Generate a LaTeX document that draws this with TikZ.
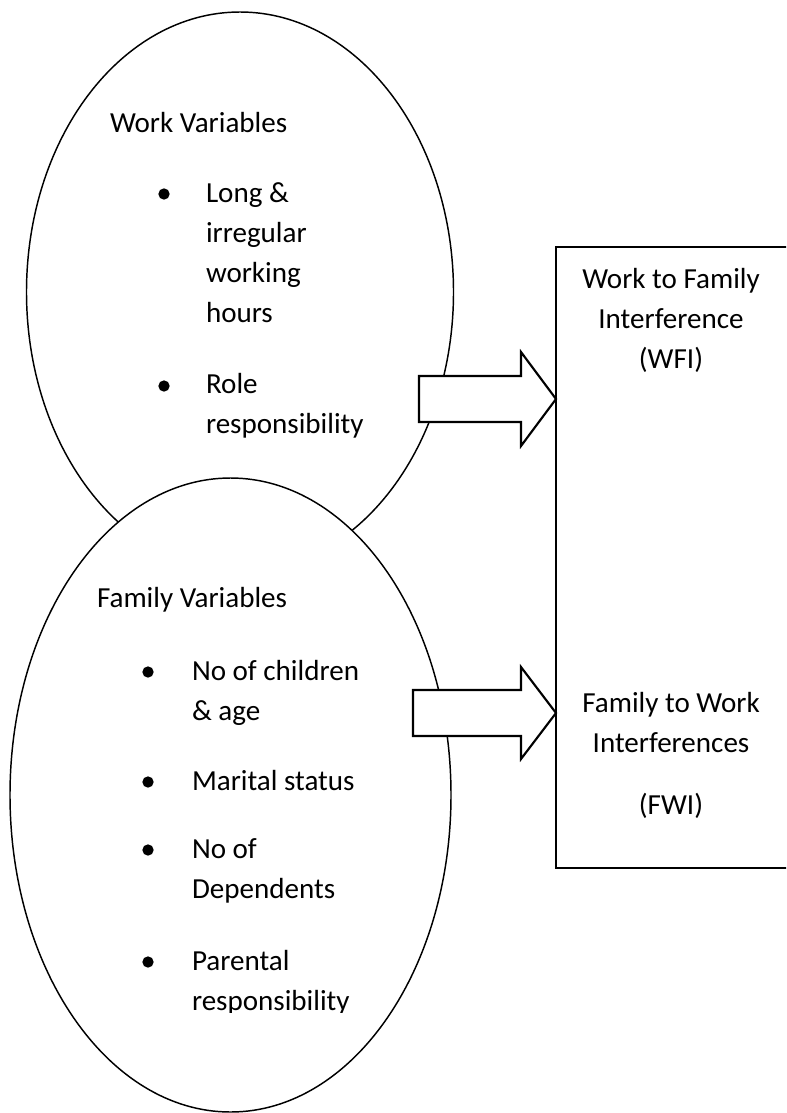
\documentclass[tikz,border=0pt]{standalone}
\usepackage{fontspec}
\setmainfont{Carlito}
\usetikzlibrary{shapes.geometric}
\begin{document}
\begin{tikzpicture}[x=0.75pt,y=-0.75pt,
        every node/.style={inner sep=0pt,outer sep=0pt,font=\fontsize{21.8pt}{30pt}\selectfont},
        txt/.style={anchor=base west},
        ctxt/.style={anchor=base},
        bulletdot/.style={circle,fill,minimum size=8.5pt},
        varellipse/.style={ellipse,draw,line width=1.1pt,fill=white},
        blockarrow/.style={draw,line width=1.6pt,fill=white,line join=miter}]
    \useasboundingbox (0,0) rectangle (786,1113);
    \clip (0,0) rectangle (786,1113);
    \node [varellipse,minimum width=320.25pt,minimum height=420pt] (workvar) at (240,292) {};
    \node [varellipse,minimum width=330.75pt,minimum height=475.5pt] (famvar) at (230.5,795) {};
    \node [draw,line width=1.6pt,anchor=north west,minimum width=175.5pt,minimum height=465.75pt] (interf) at (556,247) {};
    \path (interf.north west) ++(0,152) coordinate (wfitip);
    \path (interf.north west) ++(0,466) coordinate (fwitip);
    \draw [blockarrow] (wfitip) -- ++(-35,-47) -- ++(0,24) -- ++(-102,0) -- ++(0,46) -- ++(102,0) -- ++(0,24) -- cycle;
    \draw [blockarrow] (fwitip) -- ++(-35,-46) -- ++(0,23) -- ++(-108,0) -- ++(0,46) -- ++(108,0) -- ++(0,23) -- cycle;
    \node [txt] (worktitle) at (110,132) {Work Variables};
    \foreach \ln/\yy in {Long \&/202,irregular/242,working/282,hours/322,Role/393,responsibility/433}
        \node [txt] (wl\yy) at (206,\yy) {\ln};
    \foreach \yy in {194,386}
        \node [bulletdot] (wb\yy) at (164,\yy) {};
    \node [txt] (famtitle) at (97,607) {Family Variables};
    \foreach \yy in {672,782,850,962}
        \node [bulletdot] (fb\yy) at (148,\yy) {};
    \begin{scope}
        \clip (0,0) rectangle (786,1012);
        \foreach \ln/\yy in {No of children/680,\& age/720,Marital status/790,No of/858,Dependents/898,Parental/970,responsibility/1010}
            \node [txt] (fl\yy) at (192,\yy) {\ln};
    \end{scope}
    \foreach \ln/\yy in {Work to Family/288,Interference/328,(WFI)/368,Family to Work/712,Interferences/752,(FWI)/814}
        \node [ctxt] (rl\yy) at (671,\yy) {\ln};
\end{tikzpicture}
\end{document}
